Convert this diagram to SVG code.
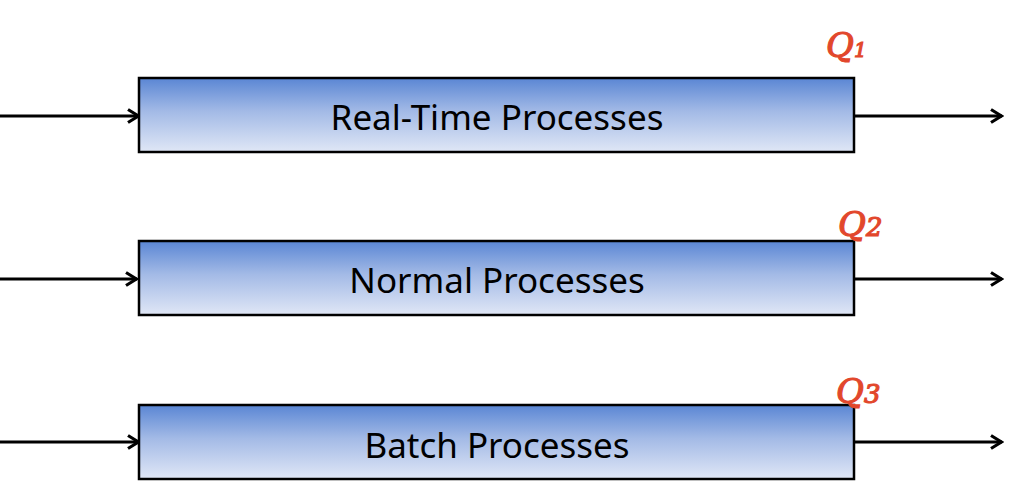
<svg xmlns="http://www.w3.org/2000/svg" width="1022" height="492" viewBox="0 0 1022 492">
<defs>
<linearGradient id="g" x1="0" y1="0" x2="0" y2="1">
<stop offset="0" stop-color="#5a86d4"/>
<stop offset="0.45" stop-color="#a3bae6"/>
<stop offset="1" stop-color="#e0e7f6"/>
</linearGradient>
<marker id="arr" viewBox="0 0 16 16" refX="14" refY="8" markerWidth="16" markerHeight="16" markerUnits="userSpaceOnUse" orient="auto">
<path d="M3,1.5 L13.5,8 L3,14.5" fill="none" stroke="#000" stroke-width="3.2"/>
</marker>
<style>
.box{fill:url(#g);stroke:#000;stroke-width:2.5}
.lbl{font-family:"Noto Sans","Open Sans",sans-serif;font-size:35px;fill:#000;text-anchor:middle}
.con{stroke:#000;stroke-width:3;fill:none;marker-end:url(#arr)}
.q{font-family:"DejaVu Serif",serif;font-style:italic;font-size:34px;fill:#e2472c;stroke:#e2472c;stroke-width:1.2}
</style>
</defs>
<rect width="1022" height="492" fill="#fff"/>
<g id="connectors">
<line class="con" x1="0" y1="116" x2="139" y2="116"/>
<line class="con" x1="855" y1="116" x2="1002" y2="116"/>
<line class="con" x1="0" y1="279" x2="137" y2="279"/>
<line class="con" x1="855" y1="279" x2="1002" y2="279"/>
<line class="con" x1="0" y1="442" x2="139" y2="442"/>
<line class="con" x1="855" y1="442" x2="1002" y2="442"/>
</g>
<g id="q1">
<rect class="box" x="139" y="78" width="715" height="74"/>
<text class="lbl" x="497" y="130">Real-Time Processes</text>
<text class="q" x="826" y="57">Q<tspan font-size="20">1</tspan></text>
</g>
<g id="q2">
<rect class="box" x="139" y="241" width="715" height="74"/>
<text class="lbl" x="497" y="293">Normal Processes</text>
<text class="q" x="838" y="236">Q<tspan font-size="26">2</tspan></text>
</g>
<g id="q3">
<rect class="box" x="139" y="405" width="715" height="74"/>
<text class="lbl" x="497" y="458">Batch Processes</text>
<text class="q" x="836" y="403">Q<tspan font-size="26">3</tspan></text>
</g>
</svg>
